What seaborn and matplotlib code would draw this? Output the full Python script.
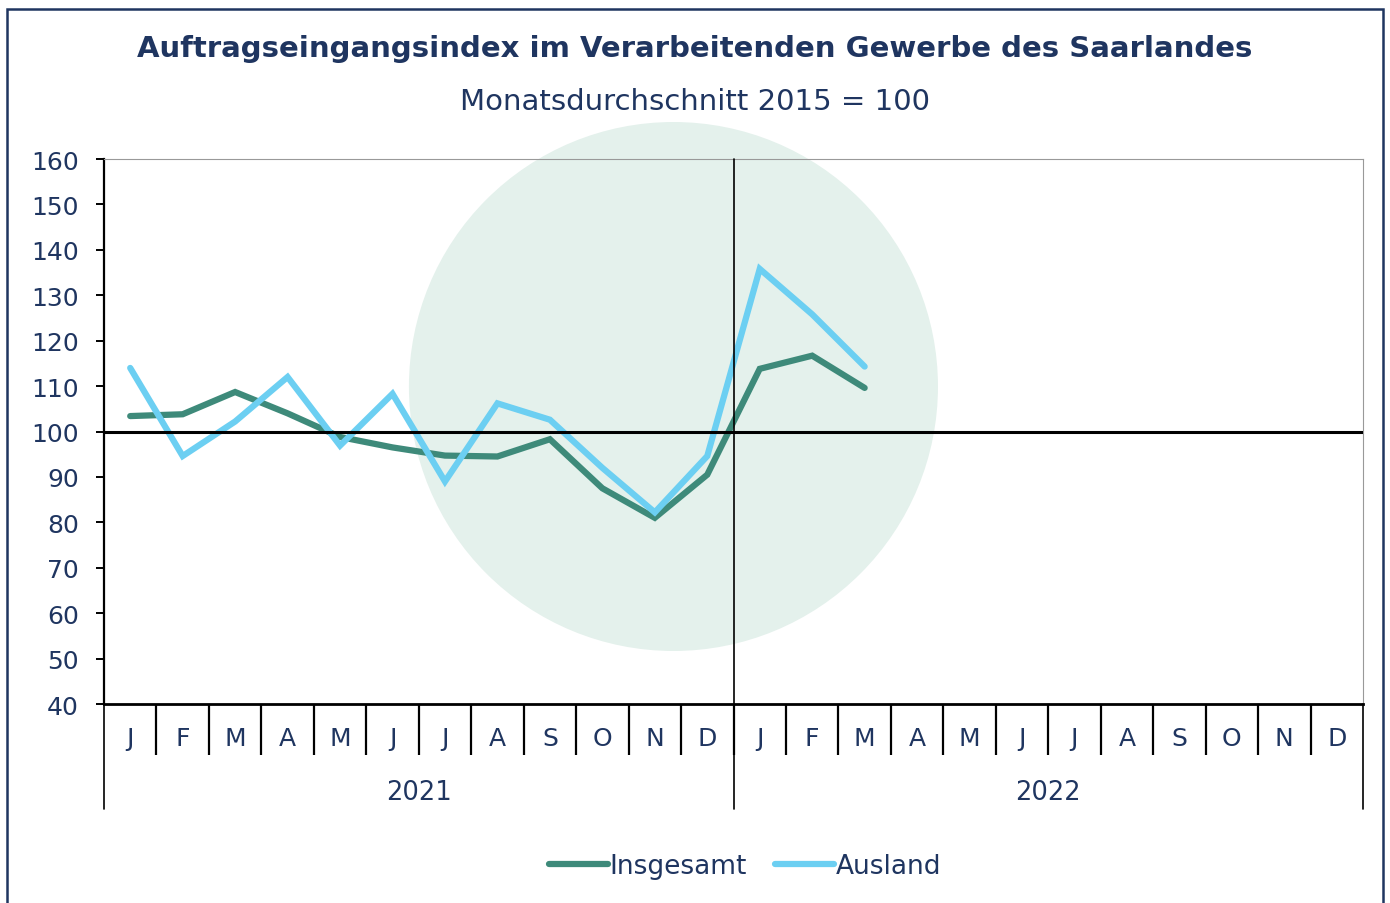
import pandas as pd
import matplotlib.pyplot as plt
import seaborn as sns
from matplotlib.patches import Ellipse, Rectangle
import matplotlib.transforms as mtransforms

# --- data ---
months = ['J', 'F', 'M', 'A', 'M', 'J', 'J', 'A', 'S', 'O', 'N', 'D'] * 2
years = ['2021', '2022']
insgesamt = [103.4, 103.8, 108.7, 104.0, 98.8, 96.5, 94.7, 94.5, 98.3, 87.5,
             81.0, 90.5, 113.8, 116.7, 109.6]
ausland = [114.0, 94.6, 102.2, 112.0, 96.9, 108.3, 89.0, 106.2, 102.6, 92.0,
           82.2, 94.6, 135.8, 125.8, 114.3]

navy = '#1f3560'
green = '#3e8a7a'
blue = '#6ccff2'

df = pd.DataFrame({
    'idx': list(range(len(insgesamt))) * 2,
    'wert': insgesamt + ausland,
    'reihe': ['Insgesamt'] * len(insgesamt) + ['Ausland'] * len(ausland),
})

sns.set_style('white')
plt.rcParams['font.family'] = ['DejaVu Sans']

fig = plt.figure(figsize=(13.9, 9.04), dpi=100)
ax = fig.add_axes([0.0748, 0.2201, 0.9058, 0.6029])

# light background circle behind the lines
ax.add_patch(Ellipse((0.4523, 0.5826), 0.4202, 0.9706, transform=ax.transAxes,
                     facecolor='#e4f1ec', edgecolor='none', zorder=0, clip_on=False))

sns.lineplot(data=df, x='idx', y='wert', hue='reihe', ax=ax,
             palette={'Insgesamt': green, 'Ausland': blue},
             linewidth=4.5, solid_capstyle='round', solid_joinstyle='miter', zorder=3)

ax.set_xlim(-0.5, 23.5)
ax.set_ylim(40, 160)
ax.set_yticks(range(40, 161, 10))
ax.set_xlabel('')
ax.set_ylabel('')

# reference lines
ax.axhline(100, color='black', linewidth=2.2, zorder=4)
ax.axvline(11.5, ymin=-0.1927, ymax=1, color='black', linewidth=1.2, zorder=4, clip_on=False)

# spines
for s in ['top', 'right']:
    ax.spines[s].set_color('#999999')
    ax.spines[s].set_linewidth(0.8)
ax.spines['left'].set_color('black')
ax.spines['left'].set_linewidth(1.6)
ax.spines['bottom'].set_color('black')
ax.spines['bottom'].set_linewidth(2)

ax.tick_params(axis='y', which='major', left=True, direction='out', length=6, width=1.4,
               colors='black', labelcolor=navy, labelsize=18, pad=12)

# category axis: month labels with separators
ax.set_xticks(range(24))
ax.set_xticklabels(months)
ax.tick_params(axis='x', which='major', length=0, labelcolor=navy, labelsize=18, pad=16)
ax.set_xticks([i - 0.5 for i in range(1, 24)], minor=True)
ax.tick_params(axis='x', which='minor', bottom=True, direction='out', length=37, width=1.6,
               colors='black')

trans = mtransforms.blended_transform_factory(ax.transData, ax.transAxes)
for xb in [-0.5, 23.5]:
    ax.plot([xb, xb], [0, -0.1927], transform=trans, color='black', linewidth=1.2, clip_on=False)
for i, yr in enumerate(years):
    ax.text(5.5 + 12 * i, -0.1615, yr, transform=trans, ha='center', va='center',
            color=navy, fontsize=18.5)

# title
fig.text(0.5, 0.946, 'Auftragseingangsindex im Verarbeitenden Gewerbe des Saarlandes',
         ha='center', va='center', fontsize=21, fontweight='bold', color=navy)
fig.text(0.5, 0.887, 'Monatsdurchschnitt 2015 = 100', ha='center', va='center',
         fontsize=21, color=navy)

# legend
handles, labels = ax.get_legend_handles_labels()
ax.legend(handles, labels, loc='center', bbox_to_anchor=(0.536, 0.041),
          bbox_transform=fig.transFigure, ncol=2, frameon=False, fontsize=19,
          handlelength=2.25, handletextpad=0.05, columnspacing=1.05, labelcolor=navy)

# outer frame
fig.patches.append(Rectangle((0.005, -0.05), 0.99, 1.039, transform=fig.transFigure,
                             fill=False, edgecolor=navy, linewidth=1.8))

fig.savefig('out.png', dpi=100)
